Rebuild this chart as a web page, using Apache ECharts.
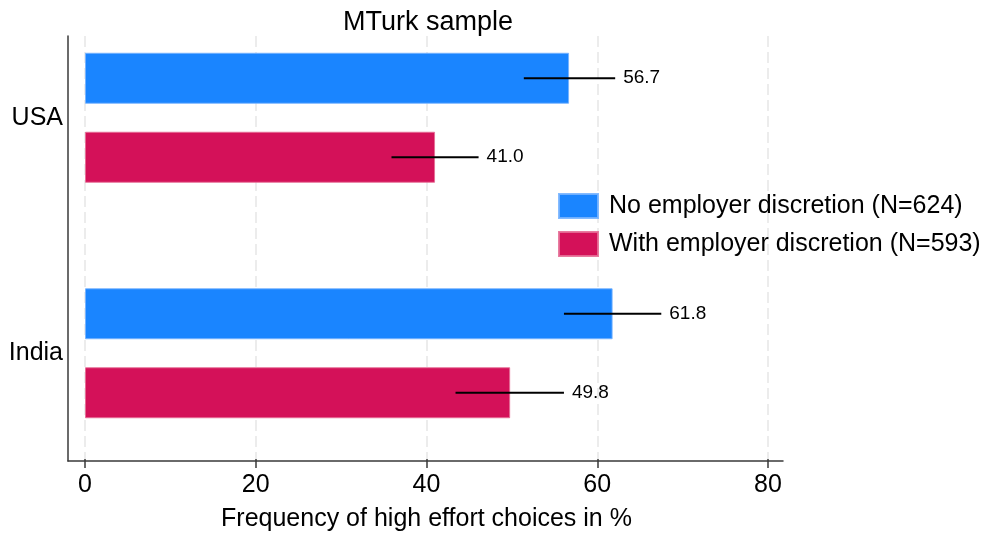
<!DOCTYPE html>
<html>
<head>
<meta charset="utf-8">
<title>MTurk sample</title>
<script src="https://cdn.jsdelivr.net/npm/echarts@6/dist/echarts.min.js"></script>
<style>
  html, body { margin: 0; padding: 0; background: #fff; }
  #chart { width: 984px; height: 537px; }
</style>
</head>
<body>
<div id="chart"></div>
<script>
// data
var countries = ["USA", "India"];
var seriesNames = ["No employer discretion (N=624)", "With employer discretion (N=593)"];
var noDiscretion = [56.7, 61.8];
var withDiscretion = [41.0, 49.8];
// confidence bands (low / high end of the black lines)
var noDiscretionLow = [51.4, 56.1];
var noDiscretionHigh = [62.1, 67.5];
var withDiscretionLow = [35.9, 43.4];
var withDiscretionHigh = [46.1, 56.1];
var xTicks = [0, 20, 40, 60, 80];

var FONT = "'Liberation Sans', Arial, Helvetica, sans-serif";
var BLUE = "#1a85ff";
var RED = "#d41159";
var AXIS = "#3a3a3a";
var BAR_W = 51;
var BAR_GAP = 28;

function errorData(low, high, vals) {
  return countries.map(function (c, i) {
    return [i, low[i], high[i], vals[i]];
  });
}

function errorSeries(name, low, high, vals, side) {
  var off = side * (BAR_W + BAR_GAP) / 2;
  return {
    name: name + " ci",
    type: "custom",
    xAxisIndex: 2,
    yAxisIndex: 2,
    z: 5,
    silent: true,
    encode: { x: [1, 2], y: 0 },
    data: errorData(low, high, vals),
    renderItem: function (params, api) {
      var a = api.coord([api.value(1), api.value(0)]);
      var b = api.coord([api.value(2), api.value(0)]);
      return {
        type: "group",
        children: [
          {
            type: "line",
            shape: { x1: a[0], y1: a[1] + off, x2: b[0], y2: b[1] + off },
            style: { stroke: "#000", lineWidth: 2.2 }
          },
          {
            type: "text",
            x: b[0] + 8,
            y: b[1] + off,
            style: {
              text: api.value(3).toFixed(1),
              fill: "#000",
              font: "19px " + FONT,
              align: "left",
              verticalAlign: "middle"
            }
          }
        ]
      };
    }
  };
}

var chart = echarts.init(document.getElementById("chart"));
chart.setOption({
  animation: false,
  backgroundColor: "#fff",
  textStyle: { fontFamily: FONT },
  title: {
    text: "MTurk sample",
    left: 423,
    top: 4,
    textAlign: "center",
    textStyle: { fontSize: 27, fontWeight: "normal", color: "#000", fontFamily: FONT }
  },
  legend: {
    data: seriesNames,
    orient: "vertical",
    left: 558,
    top: 193,
    padding: 0,
    itemWidth: 39,
    itemHeight: 24,
    itemGap: 12,
    icon: "rect",
    selectedMode: false,
    textStyle: { fontSize: 25, color: "#000", fontFamily: FONT, padding: [0, 0, 0, 6] }
  },
  grid: [
    // frame: left and bottom axis lines
    { left: 68, right: 201, top: 36, bottom: 76 },
    // ticks, labels and dashed grid lines
    { left: 85, right: 216, top: 36, bottom: 76 },
    // bars
    { left: 85, right: 216, top: 0, bottom: 66 }
  ],
  xAxis: [
    {
      gridIndex: 0,
      type: "value",
      min: -1.99,
      max: 81.76,
      axisLine: { show: true, onZero: false, lineStyle: { color: AXIS, width: 1.5 } },
      axisTick: { show: false },
      axisLabel: { show: false },
      splitLine: { show: false }
    },
    {
      gridIndex: 1,
      type: "value",
      min: xTicks[0],
      max: xTicks[xTicks.length - 1],
      interval: 20,
      axisLine: { show: false },
      axisTick: { show: true, length: 9, lineStyle: { color: AXIS, width: 1.5 } },
      axisLabel: { fontSize: 25, color: "#000", margin: 14, fontFamily: FONT },
      splitLine: { show: true, lineStyle: { color: "#e6e6e6", width: 1.5, type: [11, 5] } },
      name: "Frequency of high effort choices in %",
      nameLocation: "middle",
      nameGap: 48,
      nameTextStyle: { fontSize: 25, color: "#000", fontFamily: FONT }
    },
    {
      gridIndex: 2,
      type: "value",
      min: 0,
      max: 80,
      show: false
    }
  ],
  yAxis: [
    {
      gridIndex: 0,
      type: "value",
      min: 0,
      max: 1,
      axisLine: { show: true, onZero: false, lineStyle: { color: AXIS, width: 1.5 } },
      axisTick: { show: false },
      axisLabel: { show: false },
      splitLine: { show: false }
    },
    {
      gridIndex: 1,
      type: "value",
      show: false
    },
    {
      gridIndex: 2,
      type: "category",
      data: countries,
      inverse: true,
      axisLine: { show: false },
      axisTick: { show: false },
      splitLine: { show: false },
      axisLabel: { fontSize: 25, color: "#000", margin: 22, fontFamily: FONT }
    }
  ],
  series: [
    {
      name: seriesNames[0],
      type: "bar",
      xAxisIndex: 2,
      yAxisIndex: 2,
      data: noDiscretion,
      barWidth: BAR_W,
      barGap: (BAR_GAP / BAR_W * 100) + "%",
      itemStyle: { color: BLUE, borderColor: "rgba(120,180,255,0.9)", borderWidth: 1 }
    },
    {
      name: seriesNames[1],
      type: "bar",
      xAxisIndex: 2,
      yAxisIndex: 2,
      data: withDiscretion,
      barWidth: BAR_W,
      barGap: (BAR_GAP / BAR_W * 100) + "%",
      itemStyle: { color: RED, borderColor: "rgba(230,110,150,0.9)", borderWidth: 1 }
    },
    errorSeries(seriesNames[0], noDiscretionLow, noDiscretionHigh, noDiscretion, -1),
    errorSeries(seriesNames[1], withDiscretionLow, withDiscretionHigh, withDiscretion, 1)
  ]
});
</script>
</body>
</html>
